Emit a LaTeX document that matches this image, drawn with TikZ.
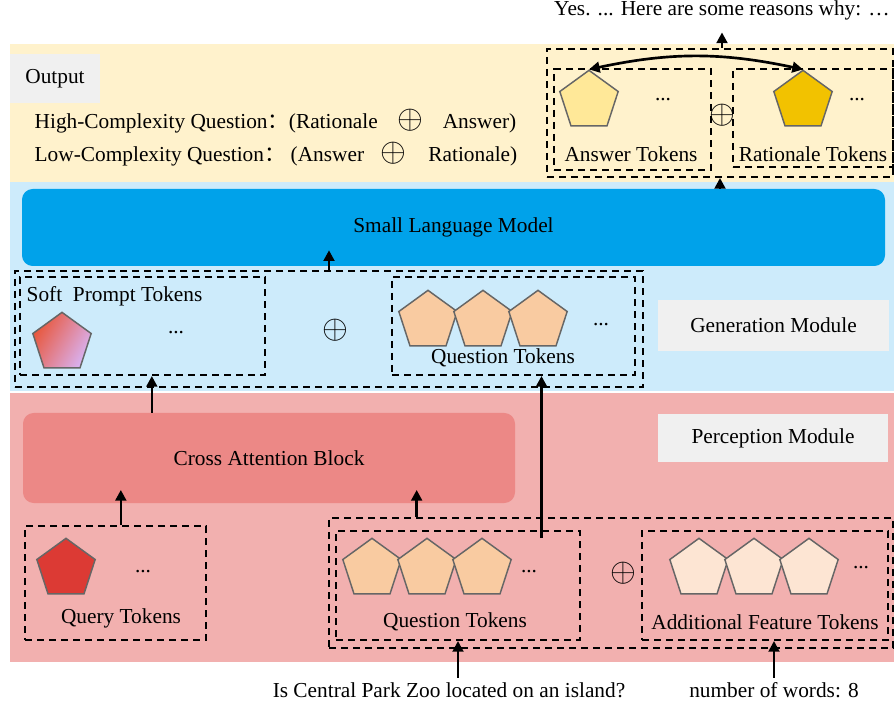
\documentclass[tikz,border=0pt]{standalone}
\usepackage{fontspec}
\setmainfont{Liberation Serif}
\newfontfamily\cjk{Noto Sans CJK SC}
\usetikzlibrary{shapes.geometric,arrows.meta,fit}

\definecolor{outbg}{HTML}{FFF2CC}
\definecolor{genbg}{HTML}{CDEBFB}
\definecolor{perbg}{HTML}{F2B0AF}
\definecolor{labelgray}{HTML}{F0F0F0}
\definecolor{slmblue}{HTML}{00A2EA}
\definecolor{crossred}{HTML}{EC8886}
\definecolor{ansyel}{HTML}{FFE898}
\definecolor{ratgold}{HTML}{F2C200}
\definecolor{qpeach}{HTML}{F9CBA1}
\definecolor{featpeach}{HTML}{FDE5D3}
\definecolor{qryred}{HTML}{DC3A34}
\definecolor{softA}{HTML}{E8563A}
\definecolor{softB}{HTML}{D883B8}
\definecolor{softC}{HTML}{D9B2F2}

\begin{document}
\begin{tikzpicture}[
  x=0.75pt, y=-0.75pt,
  font=\fontsize{16}{19}\selectfont,
  dbox/.style={draw=black,line width=1.5pt,dash pattern=on 5.5pt off 3.5pt,inner sep=0pt},
  token/.style={regular polygon,regular polygon sides=5,minimum size=46pt,inner sep=0pt,draw=black!60,line width=1.1pt},
  modlabel/.style={fill=labelgray,inner sep=0pt},
  block/.style={rounded corners=8pt,inner sep=0pt},
  arr/.style={line width=2pt,-{Triangle[length=8pt,width=8pt]}},
  plus/.style={font=\fontsize{28}{30}\selectfont},
  ]
  \useasboundingbox (0,0) rectangle (894,706);
  % module bands
  \fill[outbg] (10,44) rectangle (894,182);
  \fill[genbg] (10,182) rectangle (894,391);
  \fill[perbg] (10,393) rectangle (894,662);

  % output module
  \node[modlabel, fit={(10,54) (100,103)}, label=center:Output] (outlbl) {};
  \node[anchor=base west] (hiq) at (30,129) {High-Complexity Question{\cjk ：}(Rationale};
  \node[plus, anchor=base] (hiplus) at (410,129) {$\oplus$};
  \node[anchor=base east] (hians) at (521,129) {Answer)};
  \node[anchor=base west] (loq) at (30,162) {Low-Complexity Question{\cjk ：}\ (Answer};
  \node[plus, anchor=base] (loplus) at (393,162) {$\oplus$};
  \node[anchor=base east] (lorat) at (522,162) {Rationale)};

  \node[dbox, fit={(547,49) (893,177)}] (outbox) {};
  \node[dbox, fit={(554,69) (711,170)}] (ansbox) {};
  \node[dbox, fit={(733,69) (893,167)}] (ratbox) {};
  \node[token, fill=ansyel] (ans1) at (589,101) {};
  \node (ansdots) at (663,100) {...};
  \node (anslbl) at (631,154) {Answer Tokens};
  \node[plus] (outplus) at (722,115) {$\oplus$};
  \node[token, fill=ratgold] (rat1) at (803,101) {};
  \node (ratdots) at (857,100) {...};
  \node (ratlbl) at (813,154) {Rationale Tokens};
  \draw[line width=2pt,{Triangle[length=8pt,width=8pt]}-{Triangle[length=8pt,width=8pt]}] (ans1.north) to[bend left=12] (rat1.north);
  \node (answer) at (722,10) {Yes. ... Here are some reasons why: …};
  \draw[arr, shorten >=6pt] (outbox.north -| answer.south) -- (answer.south);

  % generation module
  \node[block, fill=slmblue, fit={(22,189) (885,266)}, label=center:Small Language Model] (slm) {};
  \draw[arr] (slm.north -| outbox.south) -- (outbox.south);
  \node[dbox, fit={(15,271) (643,387)}] (genbox) {};
  \node[dbox, fit={(20,277) (265,375)}] (softbox) {};
  \node[anchor=west] (softlbl) at (22,296) {Soft\ \ Prompt Tokens};
  \node[token, left color=softA, middle color=softB, right color=softC, shading angle=60] (soft1) at (62,343) {};
  \node (softdots) at (176,333) {...};
  \node[plus] (genplus) at (335,330) {$\oplus$};
  \node[dbox, fit={(392,277) (635,375)}] (gqbox) {};
  \foreach \i/\x in {1/428,2/483,3/538}
    \node[token, fill=qpeach] (gq\i) at (\x,321) {};
  \node (gqdots) at (601,325) {...};
  \node (gqlbl) at (503,358) {Question Tokens};
  \node[modlabel, fit={(658,300) (889,351)}, label=center:Generation Module] (genlbl) {};
  \draw[arr, shorten >=-12pt] (genbox.north) -- (genbox.north |- slm.south);

  % perception module
  \node[block, fill=crossred, fit={(23,413) (515,503)}, label=center:Cross Attention Block] (cross) {};
  \node[modlabel, fit={(658,414) (888,462)}, label=center:Perception Module] (perlbl) {};
  \node[dbox, fit={(25,526) (206,640)}] (qrybox) {};
  \node[token, fill=qryred] (qry1) at (66,569) {};
  \node (qrydots) at (143,572) {...};
  \node (qrylbl) at (121,618) {Query Tokens};
  \node[dbox, fit={(329,518) (893,648)}] (inbox) {};
  \node[dbox, fit={(336,531) (580,640)}] (pqbox) {};
  \foreach \i/\x in {1/372,2/427,3/482}
    \node[token, fill=qpeach] (pq\i) at (\x,569) {};
  \node (pqdots) at (529,572) {...};
  \node (pqlbl) at (455,622) {Question Tokens};
  \node[plus] (perplus) at (623,573) {$\oplus$};
  \node[dbox, fit={(642,531) (888,640)}] (featbox) {};
  \foreach \i/\x in {1/699,2/754,3/809}
    \node[token, fill=featpeach] (ft\i) at (\x,569) {};
  \node (ftdots) at (861,568) {...};
  \node (featlbl) at (765,622) {Additional Feature Tokens};
  \node (question) at (449,690) {Is Central Park Zoo located on an island?};
  \node (feature) at (774,690) {number of words: 8};

  \draw[arr] ([xshift=7pt]softbox.south |- cross.north) -- ([xshift=7pt]softbox.south);
  \draw[arr, shorten >=-10pt] ([xshift=4pt]qrybox.north) -- ([xshift=4pt]qrybox.north |- cross.south);
  \draw[arr, shorten >=-10pt] ([xshift=-31pt]pqbox.north |- inbox.north) -- ([xshift=-31pt]pqbox.north |- cross.south);
  \draw[arr] ([xshift=21pt,yshift=-6pt]gqbox.south |- pqbox.north) -- ([xshift=21pt]gqbox.south);
  \draw[arr] (pqbox.south |- question.north) -- (pqbox.south);
  \draw[arr] (feature.north) -- (feature.north |- featbox.south);
\end{tikzpicture}
\end{document}
